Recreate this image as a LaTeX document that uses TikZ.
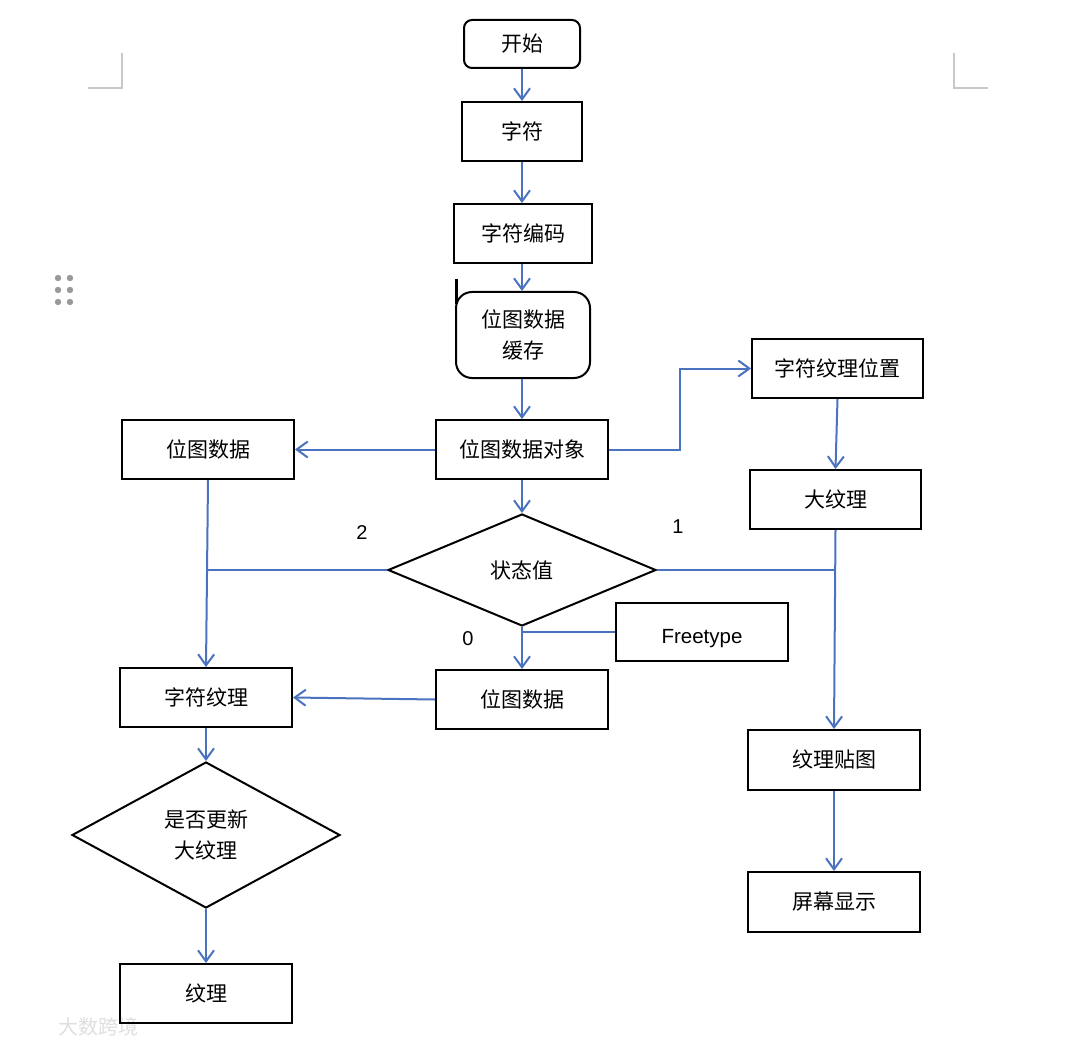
\documentclass[tikz,border=0pt]{standalone}
\usepackage{fontspec}
\usetikzlibrary{arrows.meta,shapes.geometric}
\newfontfamily\cjk{Noto Sans CJK SC}
\newfontfamily\lat{Liberation Sans}
\definecolor{lblue}{HTML}{4A72BE}
\definecolor{markgray}{HTML}{C8C8C8}
\begin{document}
\begin{tikzpicture}[x=1pt,y=-1pt,
  box/.style={draw=black,line width=2pt,inner sep=0pt,align=center,
    font=\cjk\fontsize{21}{31}\selectfont},
  dia/.style={diamond,draw=black,line width=2pt,inner sep=0pt,align=center,
    font=\cjk\fontsize{21}{31}\selectfont},
  arr/.style={draw=lblue,line width=2pt,-{Straight Barb[length=11pt,width=16pt]}},
  conn/.style={draw=lblue,line width=2pt},
  lbl/.style={font=\lat\fontsize{20}{24}\selectfont,inner sep=0pt}]
\fill[white] (0,0) rectangle (1070,1048);
\useasboundingbox (0,0) rectangle (1070,1048);
% page corner marks
\draw[markgray,line width=1.5pt] (122,53) -- (122,88) -- (88,88);
\draw[markgray,line width=1.5pt] (954,53) -- (954,88) -- (988,88);
% drag handle dots
\foreach \px in {58,70} \foreach \py in {278,290,302}
  \fill[gray!80] (\px,\py) circle (3.2);
% cursor bar
\fill[black] (454.5,279) rectangle (457.5,304);
% watermark
\node[font=\cjk\fontsize{20}{24}\selectfont,text=gray!25,inner sep=0pt] (wmk) at (98,1027) {大数跨境};
% nodes
\node[box,minimum width=116,minimum height=48,rounded corners=8] (start) at (522,44) {开始};
\node[box,minimum width=120,minimum height=59] (zf) at (522,131.5) {字符};
\node[box,minimum width=138,minimum height=59] (bm) at (523,233.5) {字符编码};
\node[box,minimum width=134,minimum height=86,rounded corners=16] (hc) at (523,335) {位图数据\\缓存};
\node[box,minimum width=172,minimum height=59] (dx) at (522,449.5) {位图数据对象};
\node[box,minimum width=172,minimum height=59] (wl) at (208,449.5) {位图数据};
\node[box,minimum width=171,minimum height=59] (wz) at (837.5,368.5) {字符纹理位置};
\node[box,minimum width=171,minimum height=59] (dw) at (835.5,499.5) {大纹理};
\node[dia,minimum width=268,minimum height=112] (zt) at (522,570) {状态值};
\node[box,minimum width=172,minimum height=58,text height=22pt,text depth=0pt,font=\lat\fontsize{20.5}{24}\selectfont] (ft) at (702,632) {Freetype};
\node[box,minimum width=172,minimum height=59] (wm) at (522,699.5) {位图数据};
\node[box,minimum width=172,minimum height=59] (wt) at (206,697.5) {字符纹理};
\node[dia,minimum width=268,minimum height=146] (gx) at (206,835) {是否更新\\大纹理};
\node[box,minimum width=172,minimum height=59] (wl2) at (206,993.5) {纹理};
\node[box,minimum width=172,minimum height=60] (tt) at (834,760) {纹理贴图};
\node[box,minimum width=172,minimum height=60] (pm) at (834,902) {屏幕显示};
% labels
\node[lbl] (n2) at (362,533) {2};
\node[lbl] (n1) at (678,527) {1};
\node[lbl] (n0) at (468,639) {0};
% junction coordinates
\coordinate (jl) at (206.8,570);
\coordinate (jr) at (835,570);
\coordinate (jb) at (522,632);
\coordinate (jk) at (680,449.5);
% connectors
\draw[arr] (start) -- (zf);
\draw[arr] (zf) -- (bm.north -| zf);
\draw[arr] (bm.south -| zf) -- (hc.north -| zf);
\draw[arr] (hc.south -| zf) -- (dx.north -| zf);
\draw[arr] (dx.west) -- (wl.east);
\draw[arr] (dx.east) -- (jk) |- (wz.west);
\draw[arr] (wz.south) -- (dw.north);
\draw[arr] (dx.south) -- (zt.north);
\draw[arr] (wl.south) -- (wt.north);
\draw[conn] (zt.west) -- (jl);
\draw[conn] (zt.east) -- (jr);
\draw[arr] (dw.south) -- (tt.north);
\draw[arr] (zt.south) -- (wm.north);
\draw[conn] (ft.west) -- (jb);
\draw[arr] (wm.west) -- (wt.east);
\draw[arr] (wt.south) -- (gx.north);
\draw[arr] (gx.south) -- (wl2.north);
\draw[arr] (tt.south) -- (pm.north);
\end{tikzpicture}
\end{document}
